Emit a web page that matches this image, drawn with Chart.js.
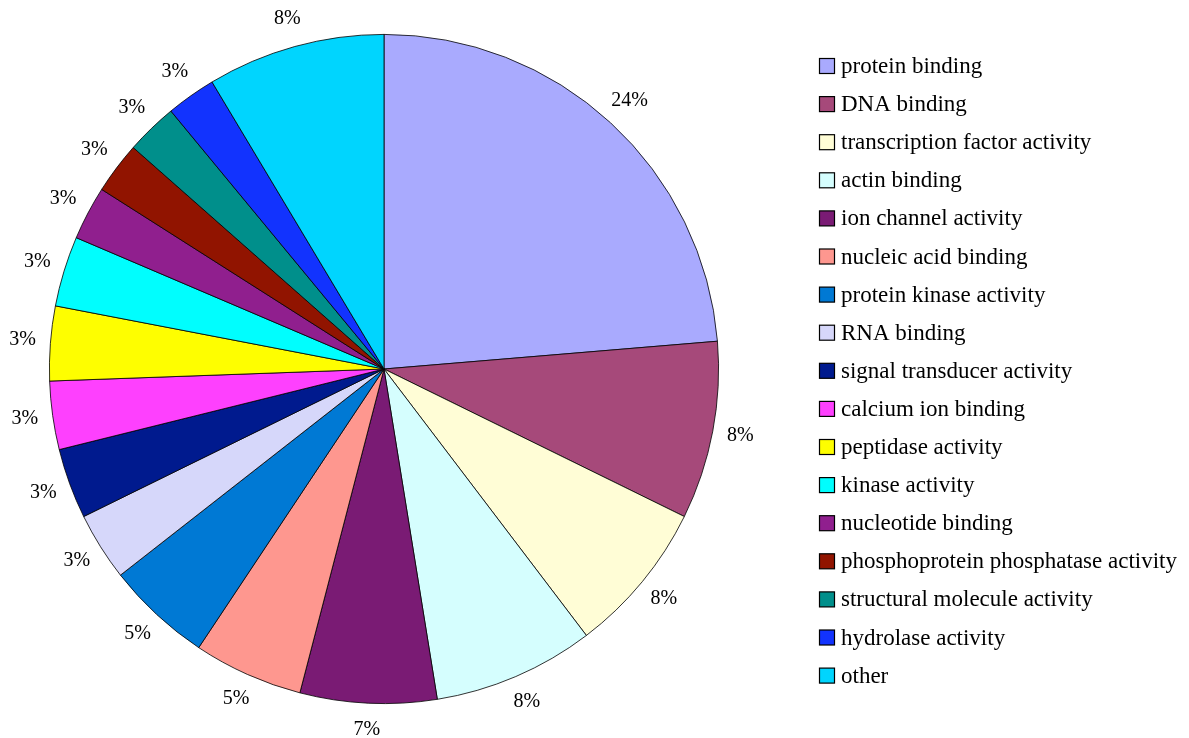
<!DOCTYPE html>
<html>
<head>
<meta charset="utf-8">
<script src="https://cdn.jsdelivr.net/npm/chart.js@4/dist/chart.umd.min.js"></script>
<style>
html,body{margin:0;padding:0;background:#fff;}
#wrap{width:1189px;height:738px;position:relative;}
</style>
</head>
<body>
<div id="wrap"><canvas id="c" width="1189" height="738"></canvas></div>
<script>
const categories = ["protein binding","DNA binding","transcription factor activity","actin binding","ion channel activity","nucleic acid binding","protein kinase activity","RNA binding","signal transducer activity","calcium ion binding","peptidase activity","kinase activity","nucleotide binding","phosphoprotein phosphatase activity","structural molecule activity","hydrolase activity","other"];
const values = [23.7, 8.6, 7.4, 7.8, 6.6, 5.3, 5.1, 3.3, 3.4, 3.3, 3.6, 3.4, 2.6, 2.5, 2.5, 2.4, 8.6];
const percentLabels = ["24%","8%","8%","8%","7%","5%","5%","3%","3%","3%","3%","3%","3%","3%","3%","3%","8%"];
const colors = ["#A9AAFE","#A6497A","#FFFDD6","#D5FEFE","#7A1B74","#FE978F","#0079D4","#D6D7FA","#001A8E","#FE40FE","#FEFE00","#00FEFE","#901F8E","#911400","#008F8B","#1233FE","#00D5FE"];

const FONT = "'Liberation Serif','Times New Roman',serif";

const sliceLabels = {
  id: 'sliceLabels',
  afterDatasetsDraw(chart) {
    const ctx = chart.ctx;
    const meta = chart.getDatasetMeta(0);
    ctx.save();
    ctx.font = "20px " + FONT;
    ctx.fillStyle = "#000";
    ctx.textAlign = "center";
    ctx.textBaseline = "middle";
    meta.data.forEach((arc, i) => {
      const p = arc.getProps(['x','y','startAngle','endAngle','outerRadius'], true);
      const mid = (p.startAngle + p.endAngle) / 2;
      const r = p.outerRadius + 28;
      ctx.fillText(percentLabels[i], p.x + Math.cos(mid) * r, p.y + Math.sin(mid) * r - 1);
    });
    ctx.restore();
  }
};

const sideLegend = {
  id: 'sideLegend',
  afterDraw(chart) {
    const ctx = chart.ctx;
    const ds = chart.data.datasets[0];
    ctx.save();
    ctx.font = "23px " + FONT;
    ctx.textBaseline = "middle";
    ctx.textAlign = "left";
    chart.data.labels.forEach((lab, i) => {
      const cy = 66 + i * 38.1;
      ctx.fillStyle = ds.backgroundColor[i];
      ctx.fillRect(819.5, cy - 7.5, 15, 15);
      ctx.strokeStyle = "#000";
      ctx.lineWidth = 1.2;
      ctx.strokeRect(819.5, cy - 7.5, 15, 15);
      ctx.fillStyle = "#000";
      ctx.fillText(lab, 841, cy + 1);
    });
    ctx.restore();
  }
};

new Chart(document.getElementById('c'), {
  type: 'pie',
  data: {
    labels: categories,
    datasets: [{
      data: values,
      backgroundColor: colors,
      borderColor: "#000",
      borderWidth: 0.8,
      hoverOffset: 0
    }]
  },
  options: {
    responsive: false,
    animation: false,
    layout: { padding: { left: 49, top: 34, right: 470, bottom: 34 } },
    plugins: {
      legend: { display: false },
      tooltip: { enabled: false }
    }
  },
  plugins: [sliceLabels, sideLegend]
});
</script>
</body>
</html>
